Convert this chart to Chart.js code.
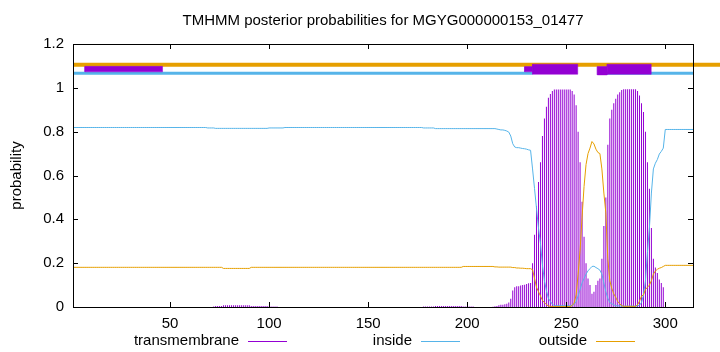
<!DOCTYPE html>
<html>
<head>
<meta charset="utf-8">
<script src="https://cdn.jsdelivr.net/npm/chart.js@4.4.1/dist/chart.umd.min.js"></script>
<style>
  html, body { margin: 0; padding: 0; background: #fff; }
  canvas { display: block; }
</style>
</head>
<body>
<canvas id="tmhmmChart" width="720" height="352"></canvas>
<script>
const chartTitle = 'TMHMM posterior probabilities for MGYG000000153_01477';
const seqLength = 314;

// posterior probability per residue (1..314), 20 per row
const tmProb = [
  0,0,0,0,0,0,0,0,0,0, 0,0,0,0,0,0,0,0,0,0,
  0,0,0,0,0,0,0,0,0,0, 0,0,0,0,0,0,0,0,0,0,
  0,0,0,0,0,0,0,0,0,0, 0,0,0,0,0,0,0,0,0,0,
  0,0,0,0,0,0,0,0,0,0, 0,0.002,0.004,0.004,0.004,0.004,0.008,0.008,0.008,0.008,
  0.008,0.008,0.008,0.008,0.008,0.008,0.008,0.008,0.008,0.008, 0.004,0.004,0.004,0.004,0.004,0.004,0.004,0.004,0.004,0.002,
  0.002,0.002,0.002,0.002,0,0,0,0,0,0, 0,0,0,0,0,0,0,0,0,0,
  0,0,0,0,0,0,0,0,0,0, 0,0,0,0,0,0,0,0,0,0,
  0,0,0,0,0,0,0,0,0,0, 0,0,0,0,0,0,0,0,0,0,
  0,0,0,0,0,0,0,0,0,0, 0,0,0,0,0,0,0,0.002,0.002,0.002,
  0.002,0.002,0.002,0.005,0.005,0.005,0.005,0.005,0.005,0.005, 0.005,0.005,0.005,0.005,0.005,0.005,0.005,0.002,0.002,0.002,
  0.002,0.002,0.002,0,0,0,0,0,0,0, 0,0,0.001,0.003,0.005,0.008,0.01,0.01,0.012,0.015,
  0.02,0.038,0.075,0.09,0.095,0.095,0.098,0.1,0.102,0.105, 0.108,0.11,0.2,0.33,0.46,0.57,0.66,0.78,0.86,0.914,
  0.955,0.972,0.985,0.992,0.992,0.992,0.992,0.992,0.992,0.992, 0.992,0.992,0.985,0.97,0.92,0.8,0.66,0.48,0.32,0.2,
  0.13,0.1,0.06,0.07,0.1,0.12,0.13,0.22,0.37,0.5, 0.74,0.86,0.9,0.93,0.95,0.97,0.98,0.99,0.993,0.993,
  0.993,0.993,0.993,0.993,0.993,0.985,0.965,0.93,0.89,0.8, 0.66,0.54,0.36,0.22,0.18,0.155,0.125,0.11,0.09,0,
  0,0,0,0,0,0,0,0,0,0, 0,0,0,0
];
const insideProb = [
  0.819,0.819,0.819,0.819,0.819,0.819,0.819,0.819,0.819,0.819, 0.819,0.819,0.819,0.819,0.819,0.819,0.819,0.819,0.819,0.819,
  0.819,0.819,0.819,0.819,0.819,0.819,0.819,0.819,0.819,0.819, 0.819,0.819,0.819,0.819,0.819,0.819,0.819,0.819,0.819,0.819,
  0.819,0.819,0.819,0.819,0.819,0.819,0.819,0.819,0.819,0.819, 0.819,0.819,0.819,0.819,0.819,0.819,0.819,0.819,0.819,0.819,
  0.819,0.819,0.819,0.819,0.819,0.819,0.819,0.819,0.817,0.817, 0.817,0.817,0.815,0.815,0.815,0.815,0.815,0.815,0.815,0.815,
  0.815,0.815,0.815,0.815,0.815,0.815,0.815,0.815,0.815,0.815, 0.815,0.815,0.815,0.815,0.815,0.815,0.815,0.815,0.815,0.817,
  0.817,0.817,0.817,0.817,0.817,0.817,0.817,0.819,0.819,0.819, 0.819,0.819,0.819,0.819,0.819,0.819,0.819,0.819,0.819,0.819,
  0.819,0.819,0.819,0.819,0.819,0.819,0.819,0.819,0.819,0.819, 0.819,0.819,0.819,0.819,0.819,0.819,0.819,0.819,0.819,0.819,
  0.819,0.819,0.819,0.819,0.819,0.819,0.819,0.819,0.819,0.819, 0.819,0.819,0.819,0.819,0.819,0.819,0.819,0.819,0.819,0.819,
  0.819,0.819,0.819,0.819,0.819,0.819,0.819,0.819,0.819,0.819, 0.819,0.819,0.819,0.819,0.819,0.819,0.819,0.817,0.817,0.817,
  0.817,0.817,0.817,0.814,0.814,0.814,0.814,0.814,0.814,0.814, 0.814,0.814,0.814,0.814,0.814,0.814,0.814,0.814,0.814,0.814,
  0.814,0.814,0.814,0.814,0.814,0.814,0.814,0.814,0.814,0.814, 0.814,0.814,0.814,0.814,0.812,0.81,0.808,0.808,0.806,0.803,
  0.798,0.78,0.745,0.73,0.727,0.727,0.725,0.723,0.722,0.72, 0.717,0.715,0.63,0.54,0.45,0.36,0.29,0.19,0.12,0.075,
  0.04,0.025,0.013,0.006,0.006,0.006,0.006,0.006,0.006,0.006, 0.006,0.006,0.008,0.012,0.025,0.05,0.08,0.11,0.13,0.15,
  0.165,0.175,0.185,0.186,0.18,0.175,0.168,0.15,0.11,0.07, 0.04,0.02,0.015,0.01,0.006,0.005,0.005,0.004,0.004,0.004,
  0.004,0.004,0.004,0.004,0.004,0.005,0.008,0.02,0.055,0.12, 0.25,0.36,0.52,0.63,0.656,0.673,0.698,0.71,0.725,0.81,
  0.81,0.81,0.81,0.81,0.81,0.81,0.81,0.81,0.81,0.81, 0.81,0.81,0.81,0.81
];
const outsideProb = [
  0.181,0.181,0.181,0.181,0.181,0.181,0.181,0.181,0.181,0.181, 0.181,0.181,0.181,0.181,0.181,0.181,0.181,0.181,0.181,0.181,
  0.181,0.181,0.181,0.181,0.181,0.181,0.181,0.181,0.181,0.181, 0.181,0.181,0.181,0.181,0.181,0.181,0.181,0.181,0.181,0.181,
  0.181,0.181,0.181,0.181,0.181,0.181,0.181,0.181,0.181,0.181, 0.181,0.181,0.181,0.181,0.181,0.181,0.181,0.181,0.181,0.181,
  0.181,0.181,0.181,0.181,0.181,0.181,0.181,0.181,0.181,0.181, 0.181,0.181,0.181,0.181,0.181,0.181,0.176,0.176,0.176,0.176,
  0.176,0.176,0.176,0.176,0.176,0.176,0.176,0.176,0.176,0.176, 0.181,0.181,0.181,0.181,0.181,0.181,0.181,0.181,0.181,0.181,
  0.181,0.181,0.181,0.181,0.181,0.181,0.181,0.181,0.181,0.181, 0.181,0.181,0.181,0.181,0.181,0.181,0.181,0.181,0.181,0.181,
  0.181,0.181,0.181,0.181,0.181,0.181,0.181,0.181,0.181,0.181, 0.181,0.181,0.181,0.181,0.181,0.181,0.181,0.181,0.181,0.181,
  0.181,0.181,0.181,0.181,0.181,0.181,0.181,0.181,0.181,0.181, 0.181,0.181,0.181,0.181,0.181,0.181,0.181,0.181,0.181,0.181,
  0.181,0.181,0.181,0.181,0.181,0.181,0.181,0.181,0.181,0.181, 0.181,0.181,0.181,0.181,0.181,0.181,0.181,0.181,0.181,0.181,
  0.181,0.181,0.181,0.181,0.181,0.181,0.181,0.181,0.181,0.181, 0.181,0.181,0.181,0.181,0.181,0.181,0.181,0.185,0.185,0.185,
  0.185,0.185,0.185,0.185,0.185,0.185,0.185,0.185,0.185,0.185, 0.185,0.185,0.185,0.183,0.183,0.182,0.182,0.182,0.182,0.182,
  0.182,0.182,0.18,0.18,0.178,0.178,0.177,0.177,0.176,0.175, 0.175,0.175,0.17,0.13,0.09,0.07,0.05,0.03,0.02,0.011,
  0.005,0.003,0.002,0.002,0.002,0.002,0.002,0.002,0.002,0.002, 0.002,0.002,0.007,0.018,0.055,0.15,0.26,0.41,0.55,0.65,
  0.7,0.725,0.755,0.744,0.72,0.705,0.7,0.63,0.52,0.43, 0.22,0.12,0.085,0.06,0.044,0.025,0.015,0.006,0.003,0.003,
  0.003,0.003,0.003,0.003,0.003,0.01,0.027,0.05,0.055,0.08, 0.09,0.1,0.12,0.15,0.164,0.172,0.177,0.18,0.185,0.19,
  0.19,0.19,0.19,0.19,0.19,0.19,0.19,0.19,0.19,0.19, 0.19,0.19,0.19,0.19
];

const residues = tmProb.map((_, i) => i + 1);
const xTicks = [50, 100, 150, 200, 250, 300];
const yTicks = [0, 0.2, 0.4, 0.6, 0.8, 1, 1.2];

// topology track above the curves
const outsideTrackStart = [1];
const outsideTrackEnd = [330];
const outsideTrackLevel = 1.105;
const insideTrackStart = [1, 266];
const insideTrackEnd = [233, 314.5];
const insideTrackLevel = 1.066;
const boxStart = [7, 229, 233, 265.7, 270.7];
const boxEnd = [46.2, 233, 255.8, 270.7, 292.9];
const boxLow = [1.073, 1.073, 1.062, 1.059, 1.062];
const boxHigh = [1.098, 1.097, 1.108, 1.097, 1.108];

const PURPLE = '#9400d3';
const BLUE = '#56b4e9';
const ORANGE = '#e69f00';
const FONT = "'Liberation Sans', Arial, sans-serif";
const FONT_SIZE = 15;

const datasets = [];

boxStart.forEach((x1, i) => {
  const x2 = boxEnd[i], lo = boxLow[i], hi = boxHigh[i];
  datasets.push({
    type: 'line', order: 0,
    data: [{x: x1, y: lo}, {x: x2, y: lo}, {x: x2, y: hi}, {x: x1, y: hi}, {x: x1, y: lo}],
    borderColor: PURPLE, backgroundColor: PURPLE, borderWidth: 0.5,
    fill: 'shape', pointRadius: 0, tension: 0, clip: false
  });
});
insideTrackStart.forEach((x1, i) => {
  datasets.push({
    type: 'line', order: 1,
    data: [{x: x1, y: insideTrackLevel}, {x: insideTrackEnd[i], y: insideTrackLevel}],
    borderColor: BLUE, borderWidth: 3, pointRadius: 0, fill: false, clip: false
  });
});
outsideTrackStart.forEach((x1, i) => {
  datasets.push({
    type: 'line', order: 2,
    data: [{x: x1, y: outsideTrackLevel}, {x: outsideTrackEnd[i], y: outsideTrackLevel}],
    borderColor: ORANGE, borderWidth: 4, pointRadius: 0, fill: false, clip: false
  });
});

datasets.push({
  type: 'line', order: 3, label: 'outside',
  data: residues.map((r, i) => ({x: r, y: outsideProb[i]})),
  borderColor: ORANGE, borderWidth: 1, pointRadius: 0, tension: 0, fill: false
});
datasets.push({
  type: 'line', order: 4, label: 'inside',
  data: residues.map((r, i) => ({x: r, y: insideProb[i]})),
  borderColor: BLUE, borderWidth: 1, pointRadius: 0, tension: 0, fill: false
});
datasets.push({
  type: 'bar', order: 5, label: 'transmembrane',
  data: residues.map((r, i) => ({x: r, y: tmProb[i]})),
  backgroundColor: PURPLE, borderWidth: 0, barThickness: 1, inflateAmount: 0
});

// gnuplot-like frame, inward ticks, title and legend
const gnuplotDecor = {
  id: 'gnuplotDecor',
  afterDraw(chart) {
    const ctx = chart.ctx;
    const {left, right, top, bottom} = chart.chartArea;
    const xs = chart.scales.x, ys = chart.scales.y;
    ctx.save();
    ctx.strokeStyle = '#000';
    ctx.lineWidth = 1;
    ctx.strokeRect(Math.round(left) + 0.5, Math.round(top) + 0.5,
      Math.round(right - left), Math.round(bottom - top));
    ctx.beginPath();
    xTicks.forEach(v => {
      const px = Math.round(xs.getPixelForValue(v)) + 0.5;
      ctx.moveTo(px, bottom); ctx.lineTo(px, bottom - 5);
      ctx.moveTo(px, top); ctx.lineTo(px, top + 5);
    });
    yTicks.forEach(v => {
      const py = Math.round(ys.getPixelForValue(v)) + 0.5;
      ctx.moveTo(left, py); ctx.lineTo(left + 5, py);
      ctx.moveTo(right, py); ctx.lineTo(right - 5, py);
    });
    ctx.stroke();

    ctx.fillStyle = '#000';
    ctx.font = FONT_SIZE + 'px ' + FONT;
    ctx.textAlign = 'center';
    ctx.textBaseline = 'middle';
    ctx.fillText(chartTitle, (left + right) / 2, 21);

    ctx.save();
    ctx.translate(17, (top + bottom) / 2);
    ctx.rotate(-Math.PI / 2);
    ctx.fillText('probability', 0, 0);
    ctx.restore();

    const legend = [
      {text: 'transmembrane', color: PURPLE, x: 239},
      {text: 'inside', color: BLUE, x: 412},
      {text: 'outside', color: ORANGE, x: 587}
    ];
    ctx.textAlign = 'right';
    legend.forEach(item => {
      ctx.fillStyle = '#000';
      ctx.fillText(item.text, item.x, 341);
      ctx.strokeStyle = item.color;
      ctx.beginPath();
      ctx.moveTo(item.x + 9, 341.5);
      ctx.lineTo(item.x + 48, 341.5);
      ctx.stroke();
    });
    ctx.restore();
  }
};

new Chart(document.getElementById('tmhmmChart'), {
  type: 'line',
  data: { datasets },
  plugins: [gnuplotDecor],
  options: {
    responsive: false,
    animation: false,
    layout: { padding: { top: 44, right: 27, bottom: 0, left: 0 } },
    scales: {
      x: {
        type: 'linear', min: 1, max: seqLength, offset: false,
        grid: { display: false, drawTicks: false },
        border: { display: false },
        afterBuildTicks: s => { s.ticks = xTicks.map(v => ({value: v})); },
        afterFit: s => { s.height = 45; },
        ticks: { padding: 8, color: '#000', font: { family: FONT, size: FONT_SIZE }, maxRotation: 0 }
      },
      y: {
        min: 0, max: 1.2,
        grid: { display: false, drawTicks: false },
        border: { display: false },
        afterBuildTicks: s => { s.ticks = yTicks.map(v => ({value: v})); },
        afterFit: s => { s.width = 73; },
        ticks: { padding: 9, color: '#000', font: { family: FONT, size: FONT_SIZE }, callback: v => String(v) }
      }
    },
    plugins: {
      legend: { display: false },
      title: { display: false },
      tooltip: { enabled: false }
    }
  }
});
</script>
</body>
</html>
